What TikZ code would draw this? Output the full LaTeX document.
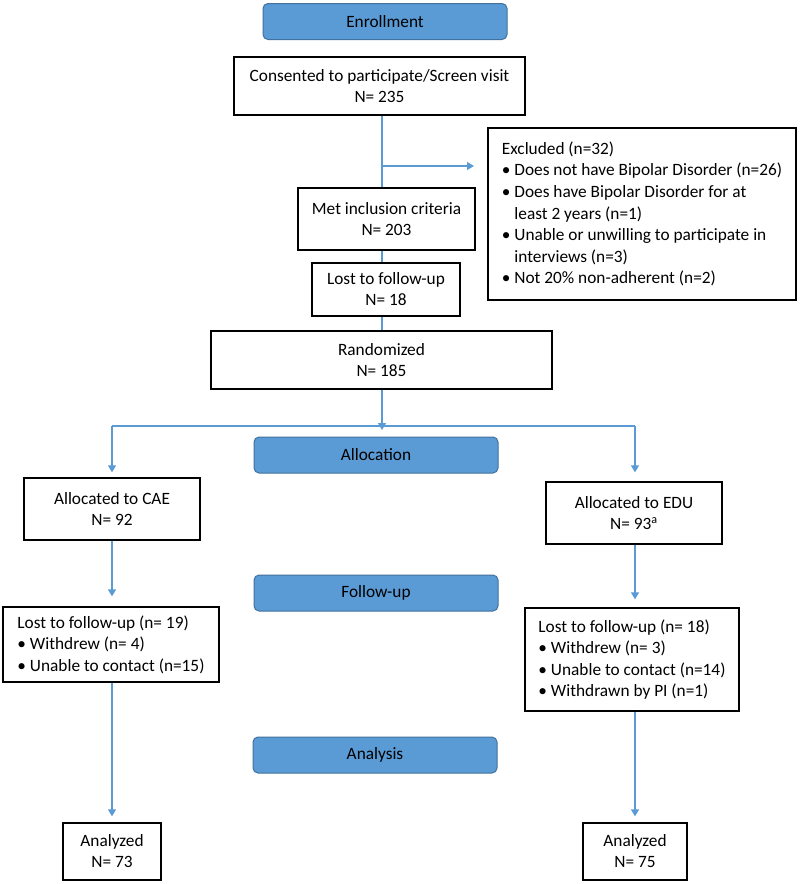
\documentclass[tikz,border=0pt]{standalone}
\usepackage{fontspec}
\setmainfont{Carlito}
\usetikzlibrary{arrows.meta}
\definecolor{hdrfill}{HTML}{5B9BD5}
\definecolor{hdrdraw}{HTML}{41719C}
\definecolor{arrblue}{HTML}{5B9BD5}
\begin{document}
\begin{tikzpicture}[x=1pt,y=-1pt,
  hdr/.style={draw=hdrdraw, fill=hdrfill, line width=1pt, rounded corners=5pt,
    minimum width=244pt, minimum height=36pt, inner sep=0pt,
    font=\fontsize{17.3}{21}\selectfont},
  box/.style={draw=black, line width=1.3pt, inner sep=0pt, align=center,
    font=\fontsize{17.3}{21}\selectfont},
  lst/.style={box, align=left, font=\fontsize{17.3}{21.6}\selectfont},
  conn/.style={draw=arrblue, line width=1.3pt},
  arr/.style={conn, -{Triangle[width=8pt,length=7pt]}}]
\useasboundingbox (0,0) rectangle (800,884);
\fill[white] (0,0) rectangle (800,884);

% header boxes
\node[hdr] (enroll) at (385,21.5) {Enrollment};
\node[hdr] (alloc) at (376,455) {Allocation};
\node[hdr] (follow) at (376,593) {Follow-up};
\node[hdr] (analysis) at (375,755) {Analysis};

% boxes
\node[box, minimum width=291pt, minimum height=58pt] (consent) at (379.5,86)
  {Consented to participate/Screen visit\\N= 235};
\node[lst, minimum width=308pt, minimum height=172pt] (excl) at (642,214)
  {Excluded (n=32)\\
   \textbullet\ Does not have Bipolar Disorder (n=26)\\
   \textbullet\ Does have Bipolar Disorder for at\\
   \phantom{\textbullet\ }least 2 years (n=1)\\
   \textbullet\ Unable or unwilling to participate in\\
   \phantom{\textbullet\ }interviews (n=3)\\
   \textbullet\ Not 20\% non-adherent (n=2)};
\node[box, minimum width=177pt, minimum height=62pt] (met) at (386.5,219)
  {Met inclusion criteria\\N= 203};
\node[box, minimum width=148pt, minimum height=53pt] (lost) at (386,289.5)
  {Lost to follow-up\\N= 18};
\node[box, minimum width=341pt, minimum height=58pt] (rand) at (381.5,360)
  {Randomized\\N= 185};
\node[box, minimum width=176pt, minimum height=62pt] (cae) at (112,509)
  {Allocated to CAE\\N= 92};
\node[box, minimum width=176pt, minimum height=62pt] (edu) at (634,513)
  {Allocated to EDU\\N= 93\textsuperscript{a}};
\node[lst, minimum width=216pt, minimum height=75pt] (lostcae) at (111,644.5)
  {Lost to follow-up (n= 19)\\
   \textbullet\ Withdrew (n= 4)\\
   \textbullet\ Unable to contact (n=15)};
\node[lst, minimum width=214pt, minimum height=103pt] (lostedu) at (632,659.5)
  {Lost to follow-up (n= 18)\\
   \textbullet\ Withdrew (n= 3)\\
   \textbullet\ Unable to contact (n=14)\\
   \textbullet\ Withdrawn by PI (n=1)};
\node[box, minimum width=98pt, minimum height=57pt] (anl) at (112,851.5)
  {Analyzed\\N= 73};
\node[box, minimum width=104pt, minimum height=57pt] (anr) at (635,851.5)
  {Analyzed\\N= 75};

% connectors
\coordinate (trunk) at (382,0);
\coordinate (br) at (382,166);
\coordinate (brend) at (474,166);
\coordinate (split) at (382,430);
\coordinate (hl) at (112,426);
\coordinate (hr) at (635,426);

\draw[conn] (consent.south -| trunk) -- (met.north -| trunk);
\draw[arr] (br) -- (brend);
\draw[conn] (met.south -| trunk) -- (lost.north -| trunk);
\draw[conn] (lost.south -| trunk) -- (rand.north -| trunk);
\draw[conn] (hl) -- (hr);
\draw[arr] (rand.south -| trunk) -- (split);
\draw[arr, shorten >=5pt] (hl) -- (hl |- cae.north);
\draw[arr, shorten >=9pt] (hr) -- (hr |- edu.north);
\draw[arr, shorten >=10pt] (cae.south) -- (cae.south |- lostcae.north);
\draw[arr, shorten >=8pt] (edu.south -| hr) -- (hr |- lostedu.north);
\draw[arr, shorten >=6pt] (lostcae.south -| anl.north) -- (anl.north);
\draw[arr, shorten >=6pt] (lostedu.south -| anr.north) -- (anr.north);
\end{tikzpicture}
\end{document}
